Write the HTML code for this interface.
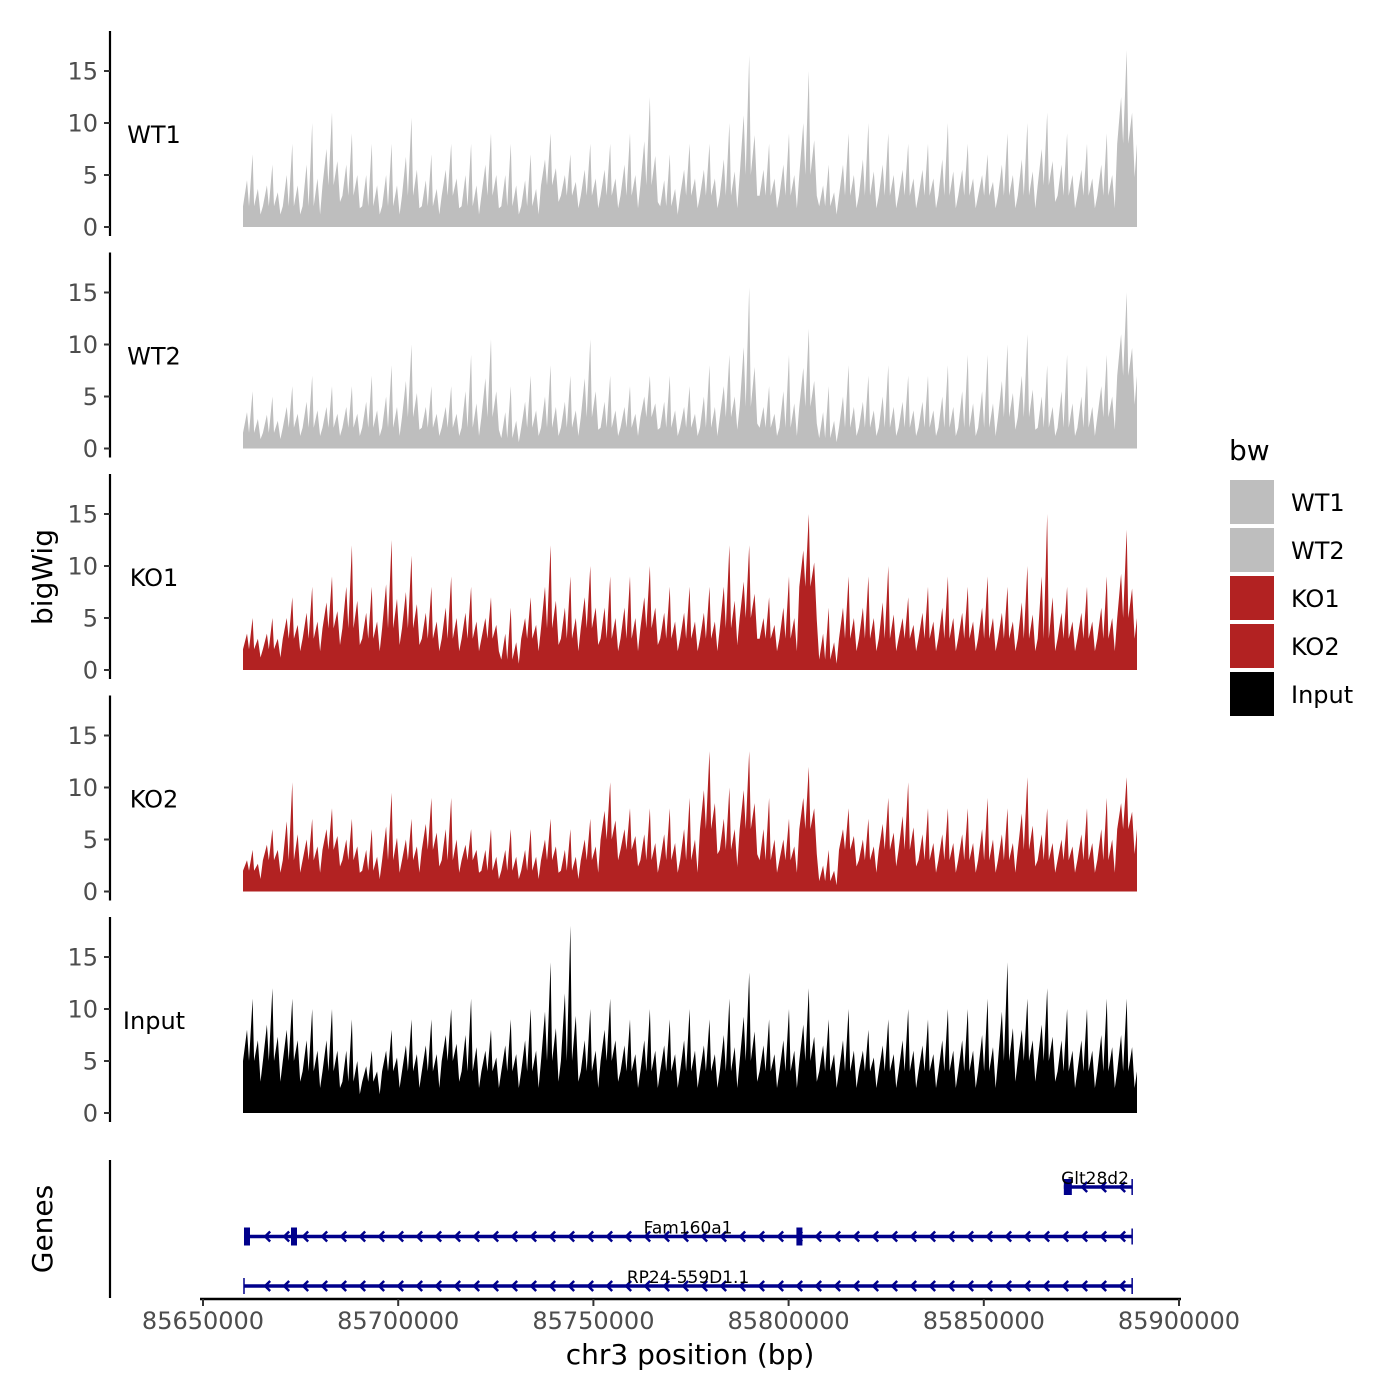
<!DOCTYPE html>
<html><head><meta charset="utf-8"><style>
body{margin:0;background:#fff}
svg{display:block;font-family:"DejaVu Sans","Liberation Sans",sans-serif}
</style></head><body>
<svg id="chart" width="1400" height="1400" viewBox="0 0 1400 1400" xmlns="http://www.w3.org/2000/svg">
<rect width="1400" height="1400" fill="#fff"/>
<g id="tracks"></g>
<g id="genes"></g>
<text x="52" y="577" transform="rotate(-90 52 577)" text-anchor="middle" font-size="28">bigWig</text>
<text x="52" y="1229" transform="rotate(-90 52 1229)" text-anchor="middle" font-size="28">Genes</text>
<text x="690" y="1364" text-anchor="middle" font-size="28">chr3 position (bp)</text>
<g id="legend"><text x="1229" y="460" font-size="28">bw</text></g>
</svg>
<script>
const NS="http://www.w3.org/2000/svg";
const samples=["WT1","WT2","KO1","KO2","Input"];
const colors=["#bebebe","#bebebe","#b22222","#b22222","#000000"];
const yTicks=[0,5,10,15];
const xTicks=[85650000,85700000,85750000,85800000,85850000,85900000];
const dataStart=85660250, dataEnd=85889250;
const wt1Peak=[7,6,8,10,11,9,8,8,10.5,7,8,8,9,8,7,9,7,8,8,9,12.5,7,8,8,10,16.5,8,9,15,6,9,10,9,8,8,10,8,7,9,10,11,9,8,9,17];
const wt1Base=[2,2,2,2,4,3,2,2,3,2,3,2,3,2,2,4,3,3,3,3,4,2,3,3,3,5,3,3,5,2,3,3,3,3,3,3,3,3,3,3,4,3,3,3,8];
const wt2Peak=[5.5,5,6,7,6,6,7,8,10,6,6,9,10.5,6,7,8,7,10.5,7,6,7,7,6,8,9,15.5,6,9,11.5,6,8,7,8,7,7,8,9,9,10,11,8,9,8,9,15];
const wt2Base=[1.5,1.5,2,2,2,2,2,2,3,2,2,2,3,1,2,2,2,3,2,2,3,2,2,2,3,4,2,2,4,1,2,2,2,2,2,2,2,2,3,3,2,2,2,3,7];
const ko1Peak=[5,5,7,8,9,12,8,12.5,11,8,9,8,7,6,7,12,9,10,9,9,10,8,8,8,12,12,7,9,15,6,9,9,10,7,8,9,8,9,8,10,15,8,8,9,13.5];
const ko1Base=[2,2,3,3,4,4,3,4,4,3,3,3,3,1,3,4,3,4,3,3,4,3,3,3,4,5,3,3,8,1,3,3,3,3,3,3,3,3,3,3,3,3,3,3,5];
const ko2Peak=[4,6,10.5,7,8,7,6,9.5,7,9,9,6,6,6,6,7,6,7,10.5,8,8,8,9,13.5,10,13.5,9,7,12,4,8,7,9,10.5,8,8,8,9,8,11,8,7,8,9,11];
const ko2Base=[2,3,3,3,4,3,2,3,3,4,3,3,2,2,2,3,2,3,5,4,3,3,3,6,4,6,3,3,6,1,4,3,4,4,3,3,3,3,3,4,3,3,3,3,6];
const inpPeak=[11,12,11,10,10,9,6,8,9,9,10,11,8,9,10,14.5,18,10,11,9,10,9,10,9,11,13.5,9,10,12,9,10,8,9,10,9,10,10,11,14.5,11,12,10,10,11,11];
const inpBase=[5,5,5,4,4,3,3,4,4,4,5,4,4,4,4,5,5,4,5,4,4,4,4,4,4,5,4,4,5,4,4,4,4,4,4,4,4,4,5,5,5,4,4,4,4];
const peaks=[wt1Peak,wt2Peak,ko1Peak,ko2Peak,inpPeak];
const bases=[wt1Base,wt2Base,ko1Base,ko2Base,inpBase];
const geneNames=["Glt28d2","Fam160a1","RP24-559D1.1"];
const geneStarts=[85870500,85660500,85660500];
const geneEnds=[85888000,85888000,85888000];

function xs(v){return 203+(v-85650000)*(1179-203)/250000;}
function ys(p,v){return 227+p*221.5-v*10.4;}
function el(tag,attrs,parent){const e=document.createElementNS(NS,tag);for(const k in attrs)e.setAttribute(k,attrs[k]);parent.appendChild(e);return e;}
const tracks=document.getElementById('tracks');
samples.forEach((s,p)=>{
  const g=el('g',{},tracks);
  
  
  const ax=el('line',{x1:110,x2:110,y1:ys(p,0)-196,y2:ys(p,0)+9,stroke:'#000','stroke-width':2.2},g);
  
  
  yTicks.forEach(t=>{
    el('line',{x1:104,x2:110,y1:ys(p,t),y2:ys(p,t),stroke:'#333','stroke-width':2},g);
    const tx=el('text',{x:98,y:ys(p,t)+8.5,'text-anchor':'end','font-size':24,fill:'#4d4d4d'},g);
    tx.textContent=t;
    
    
  });
  const lb=el('text',{x:154,y:ys(p,0)-84,'text-anchor':'middle','font-size':24},g);
  lb.textContent=s;
  
  
  const pk=peaks[p],bs=bases[p],n=pk.length;
  const x0=xs(dataStart),x1=xs(dataEnd),w=(x1-x0)/n;
  let pts=[[x0,ys(p,0)]];
  for(let i=0;i<n;i++){
    const a=x0+i*w;
    pts.push([a,ys(p,bs[i])]);
    pts.push([a+w*0.2,ys(p,(bs[i]+pk[i])/2)]);
    pts.push([a+w*0.3,ys(p,bs[i])]);
    pts.push([a+w*0.48,ys(p,pk[i])]);
    pts.push([a+w*0.56,ys(p,bs[i])]);
    pts.push([a+w*0.75,ys(p,(bs[i]*2+pk[i])/3)]);
    pts.push([a+w*0.88,ys(p,bs[i]*0.6)]);
  }
  pts.push([x1,ys(p,bs[n-1])],[x1,ys(p,0)]);
  const poly=el('polygon',{points:pts.map(q=>q[0].toFixed(1)+','+q[1].toFixed(1)).join(' '),fill:colors[p]},g);
  
  
});
// genes
const gg=document.getElementById('genes');
const gax=el('line',{x1:110,x2:110,y1:1160,y2:1298,stroke:'#000','stroke-width':2.2},gg);


const xax=el('line',{x1:200,x2:1181,y1:1299,y2:1299,stroke:'#000','stroke-width':2.5},gg);


xTicks.forEach(t=>{
  el('line',{x1:xs(t),x2:xs(t),y1:1299,y2:1306,stroke:'#333','stroke-width':2},gg);
  const tx=el('text',{x:xs(t),y:1329,'text-anchor':'middle','font-size':24,fill:'#4d4d4d'},gg);
  tx.textContent=t;
  
  
});
geneNames.forEach((nm,i)=>{
  const y=1187+i*49.5, a=xs(geneStarts[i]), b=xs(geneEnds[i]);
  const g=el('g',{},gg);
  
  
  el('line',{x1:a,x2:b,y1:y,y2:y,stroke:'#00008b','stroke-width':3.5},g);
  el('line',{x1:b,x2:b,y1:y-8,y2:y+8,stroke:'#00008b','stroke-width':1.5},g);
  let path='';
  for(let x=b-12;x>a+6;x-=19){path+=`M${x+5},${y-5}L${x},${y}L${x+5},${y+5}`;}
  el('path',{d:path,stroke:'#00008b','stroke-width':2.5,fill:'none'},g);
  if(i===0){el('rect',{x:a,y:y-8,width:8,height:16,fill:'#00008b'},g);}
  if(i===1){[a,a+47,xs(85802000)].forEach(q=>el('rect',{x:q,y:y-9,width:6,height:18,fill:'#00008b'},g));}
  if(i===2){el('line',{x1:a,x2:a,y1:y-8,y2:y+8,stroke:'#00008b','stroke-width':1.5},g);}
  const t=el('text',{x:(a+b)/2,y:y-3,'text-anchor':'middle','font-size':17},g);
  if(i===0){t.setAttribute('x',1095);}
  t.textContent=nm;
});
// legend
const lg=document.getElementById('legend');
samples.forEach((s,i)=>{
  const r=el('rect',{x:1230,y:480+i*48,width:44,height:44,fill:colors[i]},lg);
  
  
  const t=el('text',{x:1291,y:511+i*48,'font-size':24},lg);
  t.textContent=s;
  
  
});
</script>
</body></html>
